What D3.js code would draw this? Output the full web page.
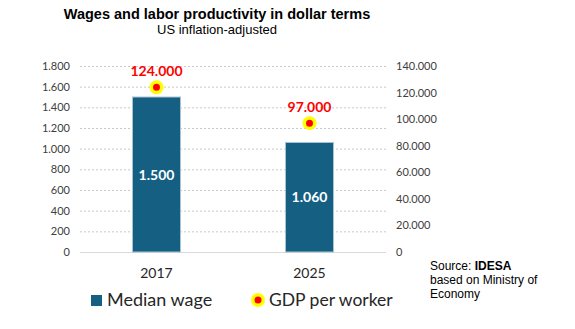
<!DOCTYPE html>
<html><head><meta charset="utf-8">
<script src="https://cdn.jsdelivr.net/npm/d3@7"></script>
<style>body{margin:0;background:#fff}svg{display:block}</style>
</head><body>
<svg id="c" width="575" height="329"></svg>
<script>
const categories = ["2017", "2025"];
const medianWage = [1500, 1060];
const gdpPerWorker = [124000, 97000];
const leftTicks = [0, 200, 400, 600, 800, 1000, 1200, 1400, 1600, 1800];
const rightTicks = [0, 20000, 40000, 60000, 80000, 100000, 120000, 140000];

const fmt = v => d3.format(",")(v).replace(/,/g, ".");
const svg = d3.select("#c");
const font = "Lato, 'Open Sans', sans-serif";
const x0 = 80, x1 = 386, yTop = 66, yBot = 252;

const x = d3.scaleBand().domain(categories).range([x0, x1]).paddingInner(0.686).paddingOuter(0.343);
const yL = d3.scaleLinear().domain([0, 1800]).range([yBot, yTop]);
const yR = d3.scaleLinear().domain([0, 140000]).range([yBot, yTop]);

// title
svg.append("text").attr("x", 217).attr("y", 19).attr("text-anchor", "middle")
  .attr("font-family", "Liberation Sans, Arial, sans-serif").attr("font-weight", "bold").attr("font-size", 14.5)
  .text("Wages and labor productivity in dollar terms");
svg.append("text").attr("x", 217).attr("y", 34).attr("text-anchor", "middle")
  .attr("font-family", "Liberation Sans, Arial, sans-serif").attr("font-size", 13)
  .text("US inflation-adjusted");

// grid
svg.append("g").selectAll("line").data(leftTicks.filter(d => d > 0)).join("line")
  .attr("x1", x0).attr("x2", x1).attr("y1", d => yL(d) + 0.5).attr("y2", d => yL(d) + 0.5)
  .attr("stroke", "#c8c8c8").attr("stroke-dasharray", "2,2");
svg.append("line").attr("x1", x0).attr("x2", x1).attr("y1", yBot + 0.5).attr("y2", yBot + 0.5)
  .attr("stroke", "#d9d9d9");

// left axis
const axL = d3.axisLeft(yL).tickValues(leftTicks).tickFormat(fmt).tickSize(0).tickPadding(0);
const gL = svg.append("g").attr("transform", `translate(70,0)`).call(axL);
gL.select(".domain").remove();
gL.selectAll("text").attr("font-family", font).attr("font-size", 11).attr("fill", "#404040");

// right axis
const axR = d3.axisRight(yR).tickValues(rightTicks).tickFormat(fmt).tickSize(0).tickPadding(0);
const gR = svg.append("g").attr("transform", `translate(396,0)`).call(axR);
gR.select(".domain").remove();
gR.selectAll("text").attr("font-family", font).attr("font-size", 11).attr("fill", "#404040");

// bars
svg.append("g").selectAll("rect").data(categories).join("rect")
  .attr("x", d => x(d)).attr("width", x.bandwidth())
  .attr("y", (d, i) => yL(medianWage[i])).attr("height", (d, i) => yBot - yL(medianWage[i]))
  .attr("fill", "#145f82").attr("stroke", "#a9c4d4").attr("stroke-width", 1);

svg.append("g").selectAll("text").data(categories).join("text")
  .attr("x", d => x(d) + x.bandwidth() / 2)
  .attr("y", (d, i) => (yL(medianWage[i]) + yBot) / 2 + 5)
  .attr("text-anchor", "middle").attr("fill", "#fff").attr("font-weight", "bold")
  .attr("font-family", font).attr("font-size", 14)
  .text((d, i) => fmt(medianWage[i]));

// dots
const dots = svg.append("g");
dots.selectAll("circle.o").data(categories).join("circle").attr("class", "o")
  .attr("cx", d => x(d) + x.bandwidth() / 2).attr("cy", (d, i) => yR(gdpPerWorker[i]))
  .attr("r", 7).attr("fill", "#ffff00");
dots.selectAll("circle.i").data(categories).join("circle").attr("class", "i")
  .attr("cx", d => x(d) + x.bandwidth() / 2).attr("cy", (d, i) => yR(gdpPerWorker[i]))
  .attr("r", 3.5).attr("fill", "#ff0000");
dots.selectAll("text").data(categories).join("text")
  .attr("x", d => x(d) + x.bandwidth() / 2).attr("y", (d, i) => yR(gdpPerWorker[i]) - 11)
  .attr("text-anchor", "middle").attr("fill", "#ff0000").attr("font-weight", "bold")
  .attr("font-family", font).attr("font-size", 14)
  .text((d, i) => fmt(gdpPerWorker[i]));

// x axis labels
svg.append("g").selectAll("text").data(categories).join("text")
  .attr("x", d => x(d) + x.bandwidth() / 2).attr("y", 278)
  .attr("text-anchor", "middle").attr("font-family", font).attr("font-size", 14).attr("fill", "#262626")
  .text(d => d);

// legend
svg.append("rect").attr("x", 91).attr("y", 295).attr("width", 11).attr("height", 11).attr("fill", "#145f82");
svg.append("text").attr("x", 107).attr("y", 306).attr("font-family", font).attr("font-size", 18).attr("fill", "#262626").text("Median wage");
svg.append("circle").attr("cx", 258).attr("cy", 300).attr("r", 7).attr("fill", "#ffff00");
svg.append("circle").attr("cx", 258).attr("cy", 300).attr("r", 3.5).attr("fill", "#ff0000");
svg.append("text").attr("x", 269).attr("y", 306).attr("font-family", font).attr("font-size", 17.5).attr("fill", "#262626").text("GDP per worker");

// source
const src = svg.append("text").attr("font-family", "Liberation Sans, Arial, sans-serif").attr("font-size", 12).attr("fill", "#000");
const t1 = src.append("tspan").attr("x", 430).attr("y", 270);
t1.append("tspan").text("Source: ");
t1.append("tspan").attr("font-weight", "bold").text("IDESA");
src.append("tspan").attr("x", 430).attr("y", 284).text("based on Ministry of");
src.append("tspan").attr("x", 430).attr("y", 298).text("Economy");
</script>
</body></html>
